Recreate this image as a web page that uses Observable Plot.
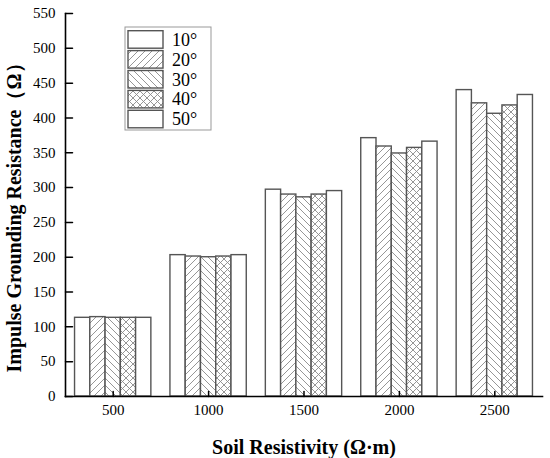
<!DOCTYPE html>
<html><head><meta charset="utf-8">
<script src="https://cdn.jsdelivr.net/npm/d3@7"></script>
<script src="https://cdn.jsdelivr.net/npm/@observablehq/plot@0.6"></script>
<style>body{margin:0;background:#fff}#chart{width:550px;height:458px}</style>
</head><body><div id="chart"></div>
<script>
const categories = [500, 1000, 1500, 2000, 2500];
const series = ["10°", "20°", "30°", "40°", "50°"];
const v10 = [113, 203, 297, 371, 440];
const v20 = [114, 201, 290, 359, 421];
const v30 = [113, 200, 286, 349, 406];
const v40 = [113, 201, 290, 357, 418];
const v50 = [113, 203, 295, 366, 433];
const values = [v10, v20, v30, v40, v50];
const yTicks = [0, 50, 100, 150, 200, 250, 300, 350, 400, 450, 500, 550];

const fills = ["#fff", "url(#hatchF)", "url(#hatchB)", "url(#cross)", "#fff"];
const groupWidth = 400;
const barW = groupWidth / series.length;

const table = series.flatMap((s, i) => categories.map((c, j) => ({series: s, i, cat: c, value: values[i][j]})));

const serif = "'Liberation Serif', 'Times New Roman', serif";

const bars = series.map((s, i) => Plot.rectY(table.filter(d => d.i === i), {
  x1: d => d.cat - groupWidth / 2 + d.i * barW,
  x2: d => d.cat - groupWidth / 2 + (d.i + 1) * barW,
  y: "value",
  fill: fills[i],
  stroke: "#555",
  strokeWidth: 1.4
}));

const tickShape = {draw(context, l) { context.moveTo(0, 0); context.lineTo(0, -l); }};

const svg = Plot.plot({
  width: 550, height: 458,
  marginLeft: 65, marginRight: 8, marginTop: 13, marginBottom: 62,
  x: {type: "linear", domain: [250, 2750]},
  y: {domain: [0, 550]},
  style: {fontFamily: serif, fontSize: "15px", color: "#000", background: "#fff", overflow: "visible"},
  marks: [
    ...bars,
    Plot.axisX({ticks: categories, tickSize: 0, tickPadding: 8, tickFormat: d => String(d),
      label: "Soil Resistivity (Ω·m)", labelAnchor: "center", labelOffset: 57, labelArrow: "none", fontSize: 15}),
    Plot.axisY({ticks: yTicks, tickSize: 0, tickPadding: 10, tickFormat: d => String(d),
      label: "Impulse Grounding Resistance（Ω）", labelAnchor: "center", labelOffset: 59, labelArrow: "none", fontSize: 15}),
    Plot.vector(yTicks, {y: d => d, frameAnchor: "left", length: 7, rotate: 90, anchor: "start",
      shape: tickShape, stroke: "#000", strokeWidth: 1.5}),
    Plot.vector(categories, {x: d => d, frameAnchor: "bottom", length: 5, rotate: 0, anchor: "start",
      shape: tickShape, stroke: "#000", strokeWidth: 1.5}),
    Plot.frame({anchor: "left", stroke: "#000", strokeWidth: 1.6}),
    Plot.frame({anchor: "bottom", stroke: "#000", strokeWidth: 1.6})
  ]
});

const s = d3.select(svg);
const defs = s.insert("defs", ":first-child");
function pat(id, d) {
  const p = defs.append("pattern").attr("id", id).attr("patternUnits", "userSpaceOnUse")
    .attr("width", 7).attr("height", 7);
  p.append("rect").attr("width", 7).attr("height", 7).attr("fill", "#fff");
  p.append("path").attr("d", d).attr("stroke", "#8a8a8a").attr("stroke-width", 0.9).attr("fill", "none");
}
const fwd = "M-1,1 l2,-2 M0,7 l7,-7 M6,8 l2,-2";
const back = "M-1,6 l2,2 M0,0 l7,7 M6,-1 l2,2";
pat("hatchF", fwd);
pat("hatchB", back);
pat("cross", fwd + " " + back);

s.selectAll('g[aria-label="x-axis label"] text')
  .style("font-weight", "bold").style("font-size", "20px");
s.selectAll('g[aria-label="y-axis label"] text')
  .style("font-weight", "bold").style("font-size", "20px").attr("dx", -8);

// legend
const lg = s.append("g").attr("class", "legend").attr("text-anchor", "start");
lg.append("rect").attr("x", 125).attr("y", 27).attr("width", 86).attr("height", 103)
  .attr("fill", "#fff").attr("stroke", "#999").attr("stroke-width", 1);
series.forEach((name, i) => {
  const y = 30.7 + i * 19.9;
  lg.append("rect").attr("x", 128).attr("y", y).attr("width", 35).attr("height", 17.5)
    .attr("fill", fills[i]).attr("stroke", "#555").attr("stroke-width", 1.4);
  lg.append("text").attr("x", 172).attr("y", y + 15).attr("font-family", serif).attr("font-size", 18)
    .attr("fill", "#000").attr("text-anchor", "start").text(name);
});

document.getElementById("chart").appendChild(svg);
</script>
</body></html>
